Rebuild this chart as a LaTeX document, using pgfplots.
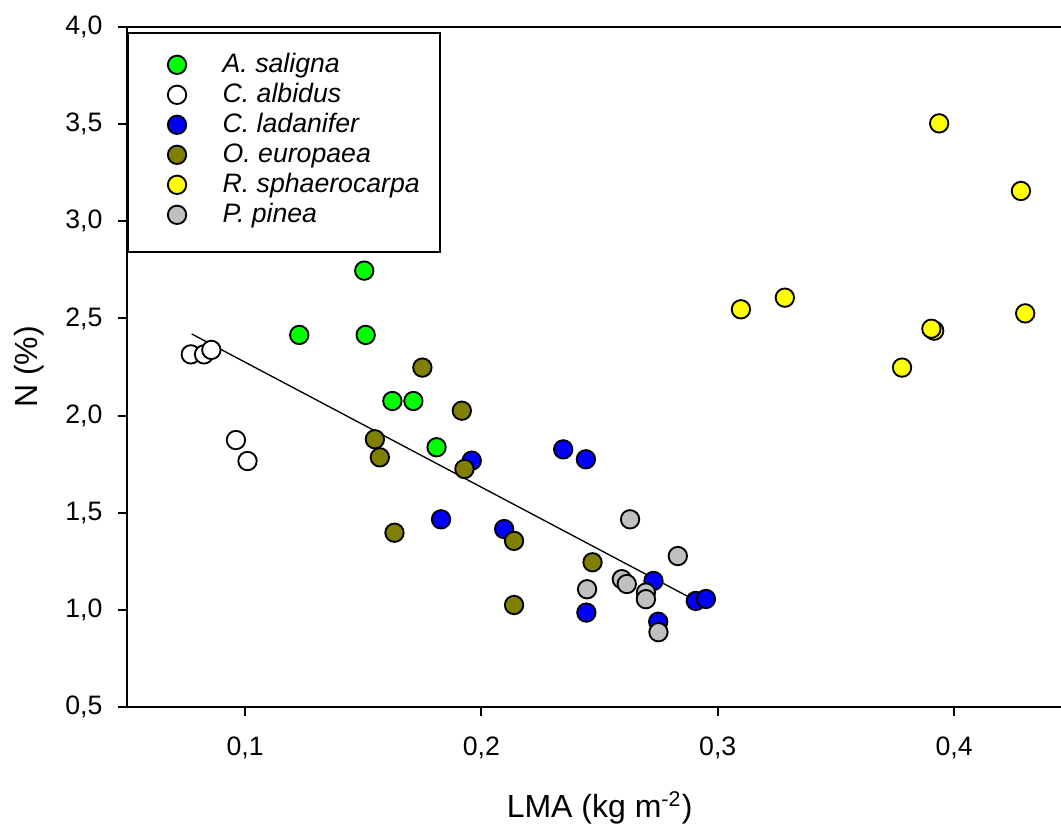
\documentclass[border=0pt]{standalone}
\usepackage{fontspec}
\setmainfont{Liberation Sans}
\usepackage{pgfplots}
\pgfplotsset{compat=1.18}
\definecolor{cgreen}{RGB}{0,255,0}
\definecolor{cblue}{RGB}{0,0,255}
\definecolor{colive}{RGB}{128,128,0}
\definecolor{cyellow}{RGB}{255,255,0}
\definecolor{cgray}{RGB}{192,192,192}
\begin{document}
\begin{tikzpicture}
\useasboundingbox (-47.625pt,-44.25pt) rectangle (350.25pt,265.125pt);
\begin{axis}[
  at={(0,0)}, anchor=south west,
  scale only axis, width=354.45pt, height=255pt,
  xmin=0.05, xmax=0.45, ymin=0.5, ymax=4.0,
  axis x line*=box, axis y line*=left,
  axis line style={line width=0.75pt},
  xtick={0.1,0.2,0.3,0.4}, ytick={0.5,1.0,1.5,2.0,2.5,3.0,3.5,4.0},
  xtick pos=lower, ytick pos=lower,
  tick align=outside, major tick length=3.4pt,
  tick style={line width=0.75pt, black},
  /pgf/number format/.cd, use comma, fixed, fixed zerofill, precision=1, assume math mode=true,
  /pgfplots/.cd,
  tick label style={font=\fontsize{10}{12}\selectfont},
  yticklabel style={inner sep=0pt, anchor=east, xshift=-5.6pt},
  xticklabel style={inner sep=0pt, anchor=north, yshift=-7.5pt},
  xlabel={LMA (kg m\textsuperscript{-2})},
  ylabel={N (\%)},
  every axis x label/.style={at={(axis description cs:0.5,-0.1631)}, anchor=base, font=\fontsize{12}{14}\selectfont},
  every axis y label/.style={at={(axis description cs:-0.0952,0.5)}, rotate=90, anchor=base, font=\fontsize{12}{14}\selectfont},
  legend style={at={(0,0.993)}, anchor=north west, draw=black, line width=0.75pt,
    inner xsep=7.5pt, inner ysep=7.4pt, font=\fontsize{10}{12}\selectfont\itshape,
    nodes={inner sep=0pt, text height=7.5pt, text depth=3.75pt},
    /tikz/every odd column/.append style={column sep=13.3pt}},
  legend cell align=left,
  every axis plot/.append style={only marks, mark=*, mark size=3.45pt, line width=0.7pt, draw=black,
    legend image code/.code={\path[draw=none, fill=none] (-10.9pt,0pt) -- (3.8pt,0pt); \draw[##1] plot coordinates {(0pt,1pt)};}},
]
\addplot[fill=cgreen, mark options={fill=cgreen, draw=black}] coordinates {
(0.1504,2.746) (0.1229,2.415) (0.151,2.415) (0.1623,2.075) (0.1712,2.075) (0.181,1.837)};
\addlegendentry{A. saligna}
\addplot[fill=white, mark options={fill=white, draw=black}] coordinates {
(0.077,2.315) (0.0826,2.315) (0.0857,2.338) (0.0961,1.874) (0.101,1.766)};
\addlegendentry{C. albidus}
\addplot[fill=cblue, mark options={fill=cblue, draw=black}] coordinates {
(0.1959,1.768) (0.1829,1.466) (0.2346,1.826) (0.2442,1.775) (0.2096,1.416) (0.2444,0.986) (0.2728,1.149) (0.2748,0.939) (0.2907,1.046) (0.295,1.056)};
\addlegendentry{C. ladanifer}
\addplot[fill=colive, mark options={fill=colive, draw=black}] coordinates {
(0.175,2.247) (0.1917,2.025) (0.1549,1.878) (0.157,1.785) (0.1928,1.725) (0.1632,1.397) (0.247,1.245) (0.2138,1.355) (0.2138,1.025)};
\addlegendentry{O. europaea}
\addplot[fill=cyellow, mark options={fill=cyellow, draw=black}] coordinates {
(0.3937,3.504) (0.4283,3.156) (0.3098,2.547) (0.3284,2.607) (0.4301,2.526) (0.3916,2.437) (0.3904,2.447) (0.378,2.247)};
\addlegendentry{R. sphaerocarpa}
\addplot[fill=cgray, mark options={fill=cgray, draw=black}] coordinates {
(0.2629,1.466) (0.2831,1.277) (0.2447,1.106) (0.2594,1.158) (0.2615,1.133) (0.2696,1.089) (0.2696,1.055) (0.2749,0.885)};
\addlegendentry{P. pinea}
\addplot[black, line width=0.5pt, sharp plot, mark=none, forget plot] coordinates {(0.0774,2.42) (0.2942,1.025)};
\end{axis}
\end{tikzpicture}
\end{document}
